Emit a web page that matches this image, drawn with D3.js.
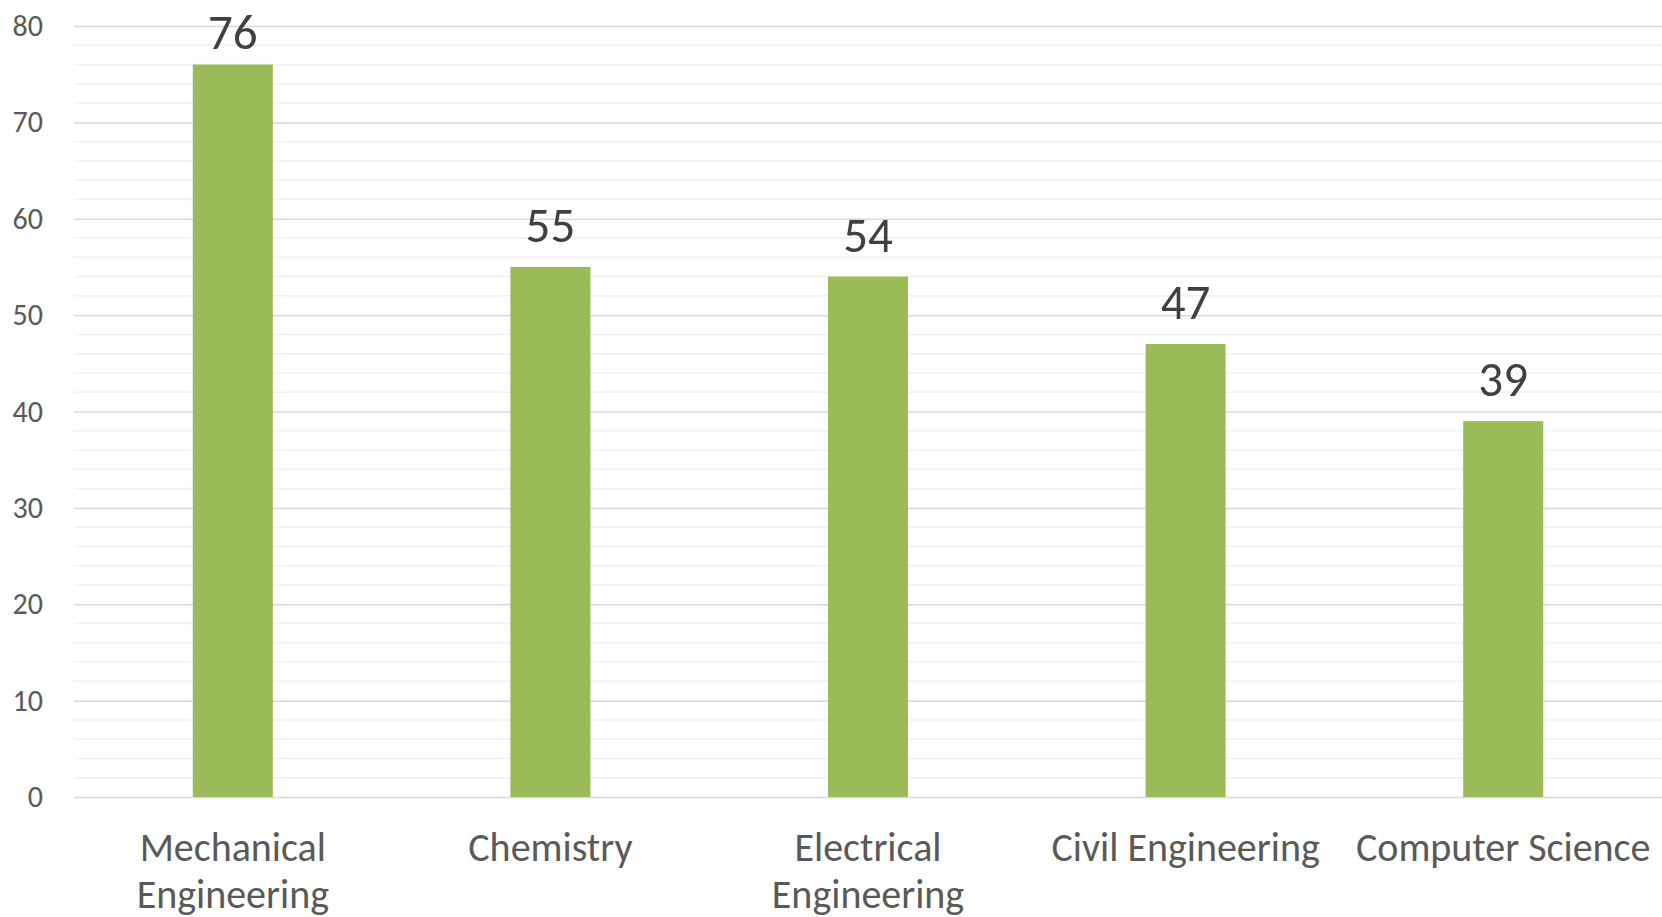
<!DOCTYPE html>
<html>
<head>
<meta charset="utf-8">
<script src="https://cdn.jsdelivr.net/npm/d3@7"></script>
<style>
  html, body { margin: 0; padding: 0; background: #fff; }
  svg { display: block; font-family: Carlito, 'Open Sans', sans-serif; }
</style>
</head>
<body>
<svg id="chart" width="1662" height="917"></svg>
<script>
// chart data
const categories = [
  ['Mechanical', 'Engineering'],
  ['Chemistry'],
  ['Electrical', 'Engineering'],
  ['Civil Engineering'],
  ['Computer Science']
]
const values = [76, 55, 54, 47, 39]
const majorTicks = [0, 10, 20, 30, 40, 50, 60, 70, 80]
const minorTicks = d3.range(0, 81, 2)

const width = 1662
const height = 917
const margin = { top: 26, right: 0, bottom: 120, left: 74 }

const svg = d3.select('#chart')

const keys = categories.map(c => c.join(' '))

const x = d3.scaleBand()
  .domain(keys)
  .range([margin.left, width - margin.right])
  .paddingInner(0.748)
  .paddingOuter(0.374)

const y = d3.scaleLinear()
  .domain([0, 80])
  .range([height - margin.bottom, margin.top])

// minor gridlines
svg.append('g')
  .selectAll('line')
  .data(minorTicks.filter(t => t % 10 !== 0))
  .join('line')
  .attr('x1', margin.left)
  .attr('x2', width - margin.right)
  .attr('y1', d => y(d))
  .attr('y2', d => y(d))
  .attr('stroke', '#f0f0f0')
  .attr('stroke-width', 1.5)

// major gridlines + labels
const yAxis = d3.axisLeft(y)
  .tickValues(majorTicks)
  .tickSize(-(width - margin.left - margin.right))
  .tickPadding(31)

svg.append('g')
  .attr('transform', `translate(${margin.left},0)`)
  .call(yAxis)
  .call(g => g.select('.domain').remove())
  .call(g => g.selectAll('.tick line').attr('stroke', '#d9d9d9').attr('stroke-width', 1.5))
  .call(g => g.selectAll('.tick text')
    .attr('fill', '#595959')
    .attr('font-size', '30px')
    .attr('font-family', "Carlito, 'Open Sans', sans-serif"))

// bars
svg.append('g')
  .selectAll('rect')
  .data(values)
  .join('rect')
  .attr('x', (d, i) => x(keys[i]))
  .attr('y', d => y(d))
  .attr('width', x.bandwidth())
  .attr('height', d => y(0) - y(d))
  .attr('fill', '#9bbb59')

// value labels
svg.append('g')
  .selectAll('text')
  .data(values)
  .join('text')
  .attr('x', (d, i) => x(keys[i]) + x.bandwidth() / 2)
  .attr('y', d => Math.max(y(d) - 25, 49))
  .attr('text-anchor', 'middle')
  .attr('fill', '#404040')
  .attr('font-size', '49px')
  .text(d => d)

// category labels
const xl = svg.append('g')
  .selectAll('text')
  .data(categories)
  .join('text')
  .attr('x', (d, i) => x(keys[i]) + x.bandwidth() / 2)
  .attr('y', 861)
  .attr('text-anchor', 'middle')
  .attr('fill', '#595959')
  .attr('font-size', '40px')

xl.selectAll('tspan')
  .data(d => d)
  .join('tspan')
  .attr('x', function () { return d3.select(this.parentNode).attr('x') })
  .attr('dy', (d, i) => i === 0 ? 0 : 47)
  .text(d => d)
</script>
</body>
</html>
